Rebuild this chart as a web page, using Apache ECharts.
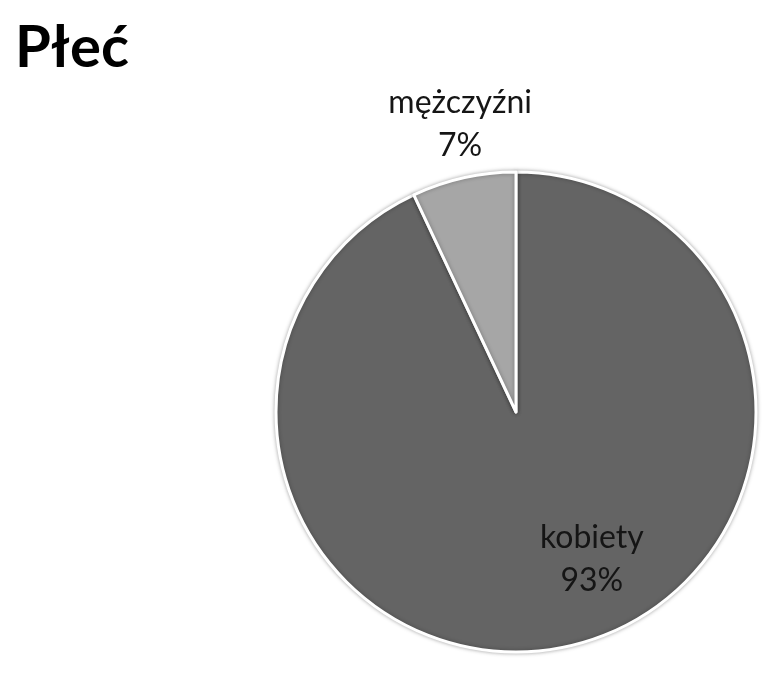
<!DOCTYPE html>
<html>
<head>
<meta charset="utf-8">
<script src="https://cdn.jsdelivr.net/npm/echarts@6/dist/echarts.min.js"></script>
<style>
html, body { margin: 0; padding: 0; background: #fff; }
#chart { width: 777px; height: 674px; }
</style>
</head>
<body>
<div id="chart"></div>
<script>
var kategorie = ['kobiety', 'mężczyźni'];
var wartosci = [93, 7];
var kolory = ['#646464', '#a6a6a6'];
var przesuniecia = [[49, 27], [-29, -168]];

var dane = [];
for (var i = 0; i < kategorie.length; i++) {
    dane.push({
        name: kategorie[i],
        value: wartosci[i],
        itemStyle: { color: kolory[i] },
        label: { offset: przesuniecia[i] }
    });
}

var wykres = echarts.init(document.getElementById('chart'));
wykres.setOption({
    animation: false,
    title: {
        text: 'Płeć',
        left: 10,
        top: 14,
        textStyle: {
            fontFamily: 'Lato',
            fontWeight: 'bold',
            fontSize: 58,
            color: '#000'
        }
    },
    series: [{
        type: 'pie',
        center: [516, 412],
        radius: [0, 240],
        startAngle: 90,
        clockwise: true,
        itemStyle: {
            borderColor: '#fff',
            borderWidth: 3,
            shadowBlur: 4,
            shadowColor: 'rgba(0,0,0,0.3)'
        },
        label: {
            show: true,
            position: 'inside',
            formatter: '{b}\n{d}%',
            fontFamily: 'Lato',
            fontSize: 32,
            lineHeight: 43,
            color: '#151515'
        },
        labelLine: { show: false },
        emphasis: { disabled: true },
        data: dane
    }]
});
</script>
</body>
</html>
